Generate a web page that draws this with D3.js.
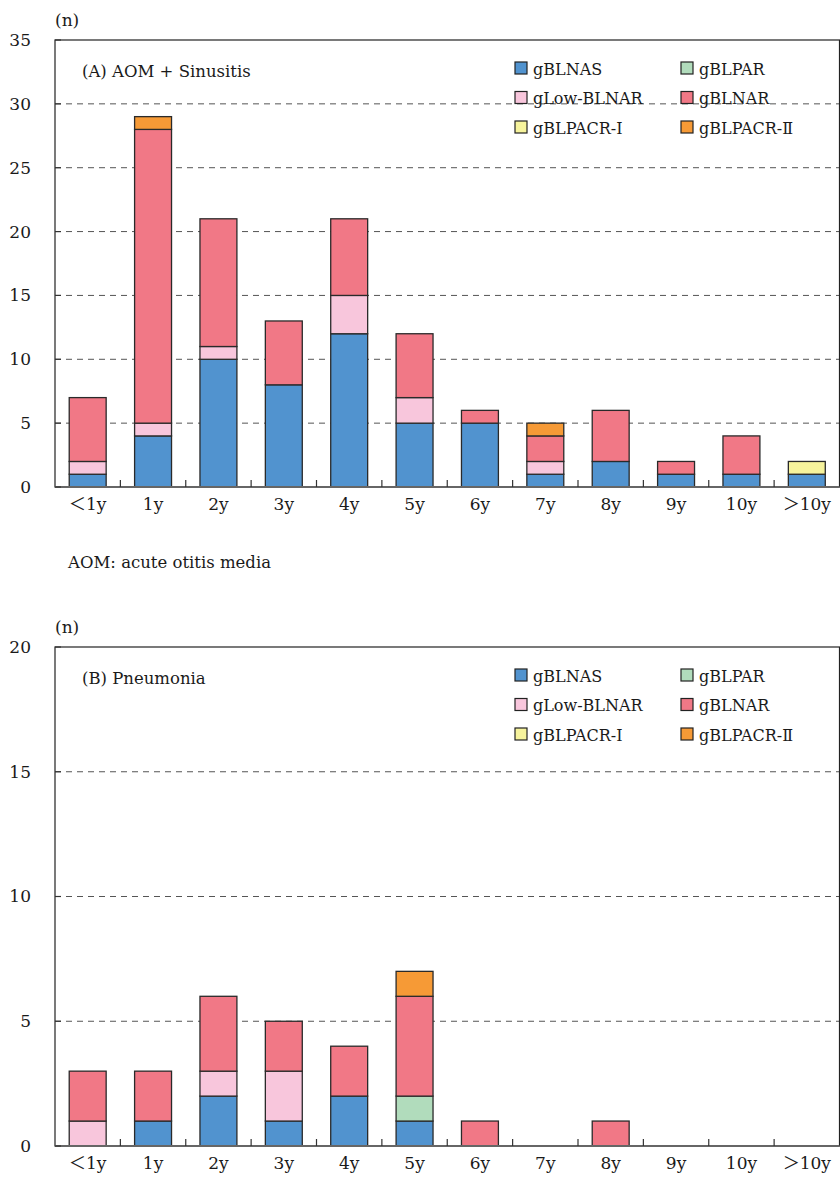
<!DOCTYPE html>
<html>
<head>
<meta charset="utf-8">
<script src="https://cdn.jsdelivr.net/npm/d3@7"></script>
<style>
  body { margin: 0; background: #fff; }
  svg text { font-family: "DejaVu Serif", "Liberation Serif", "Noto Sans CJK JP", serif; fill: #1a1a1a; }
</style>
</head>
<body>
<svg id="chart" width="840" height="1178"></svg>
<script>
// categories and series
var ages = ["＜1y", "1y", "2y", "3y", "4y", "5y", "6y", "7y", "8y", "9y", "10y", "＞10y"];
var groups = ["gBLNAS", "gBLPAR", "gLow-BLNAR", "gBLNAR", "gBLPACR-Ⅰ", "gBLPACR-Ⅱ"];
var colors = ["#5193cf", "#b1dcbc", "#f8c6dc", "#f17886", "#f6f39c", "#f69a36"];

// (A) AOM + Sinusitis, counts per age
var aomBLNAS    = [1, 4, 10, 8, 12, 5, 5, 1, 2, 1, 1, 1];
var aomBLPAR    = [0, 0, 0, 0, 0, 0, 0, 0, 0, 0, 0, 0];
var aomLowBLNAR = [1, 1, 1, 0, 3, 2, 0, 1, 0, 0, 0, 0];
var aomBLNAR    = [5, 23, 10, 5, 6, 5, 1, 2, 4, 1, 3, 0];
var aomBLPACR1  = [0, 0, 0, 0, 0, 0, 0, 0, 0, 0, 0, 1];
var aomBLPACR2  = [0, 1, 0, 0, 0, 0, 0, 1, 0, 0, 0, 0];

// (B) Pneumonia, counts per age
var pnBLNAS    = [0, 1, 2, 1, 2, 1, 0, 0, 0, 0, 0, 0];
var pnBLPAR    = [0, 0, 0, 0, 0, 1, 0, 0, 0, 0, 0, 0];
var pnLowBLNAR = [1, 0, 1, 2, 0, 0, 0, 0, 0, 0, 0, 0];
var pnBLNAR    = [2, 2, 3, 2, 2, 4, 1, 0, 1, 0, 0, 0];
var pnBLPACR1  = [0, 0, 0, 0, 0, 0, 0, 0, 0, 0, 0, 0];
var pnBLPACR2  = [0, 0, 0, 0, 0, 1, 0, 0, 0, 0, 0, 0];

var aomTicks = [0, 5, 10, 15, 20, 25, 30, 35];
var pnTicks = [0, 5, 10, 15, 20];

var svg = d3.select("#chart");

function drawPanel(o) {
    var left = 55, right = 839.5;
    var x = d3.scaleBand().domain(ages).range([left, right]).paddingInner(0.435).paddingOuter(0.2175);
    var y = d3.scaleLinear().domain([0, o.max]).range([o.bottom, o.top]);
    var g = svg.append("g");

    // rows for the stack
    var rows = ages.map(function (a, i) {
        var r = { age: a };
        groups.forEach(function (k, j) { r[k] = o.series[j][i]; });
        return r;
    });
    var stacked = d3.stack().keys(groups)(rows);

    // dashed grid
    g.selectAll(".grid").data(o.ticks.filter(function (t) { return t > 0 && t < o.max; }))
      .enter().append("line")
        .attr("x1", left).attr("x2", right)
        .attr("y1", function (d) { return y(d); }).attr("y2", function (d) { return y(d); })
        .attr("stroke", "#555").attr("stroke-width", 1)
        .attr("stroke-dasharray", "6,5");

    // frame
    g.append("rect")
        .attr("x", left).attr("y", o.top)
        .attr("width", right - left).attr("height", o.bottom - o.top)
        .attr("fill", "none").attr("stroke", "#222").attr("stroke-width", 1.2);

    // bars
    g.selectAll(".layer").data(stacked).enter().append("g")
        .attr("fill", function (d, i) { return colors[i]; })
      .selectAll("rect").data(function (d) { return d.filter(function (s) { return s[1] > s[0]; }); })
      .enter().append("rect")
        .attr("x", function (d) { return x(d.data.age); })
        .attr("width", x.bandwidth())
        .attr("y", function (d) { return y(d[1]); })
        .attr("height", function (d) { return y(d[0]) - y(d[1]); })
        .attr("stroke", "#2a2a2a").attr("stroke-width", 1.3);

    // bottom axis
    var xAxis = g.append("g").attr("transform", "translate(0," + o.bottom + ")")
        .call(d3.axisBottom(x).tickSize(0).tickPadding(11));
    xAxis.select(".domain").remove();
    xAxis.selectAll("text").attr("font-size", 17).attr("fill", "#1a1a1a")
        .style("font-family", "'DejaVu Serif', 'Noto Sans CJK JP', serif");
    g.append("line").attr("x1", left).attr("x2", right)
        .attr("y1", o.bottom).attr("y2", o.bottom)
        .attr("stroke", "#666").attr("stroke-width", 2.2);

    // tick marks between bars
    var step = x.step();
    g.selectAll(".xt").data(ages.slice(1)).enter().append("line")
        .attr("x1", function (d) { return x(d) - (step - x.bandwidth()) / 2; })
        .attr("x2", function (d) { return x(d) - (step - x.bandwidth()) / 2; })
        .attr("y1", o.bottom).attr("y2", o.bottom - 7)
        .attr("stroke", "#333").attr("stroke-width", 1.2);

    // y axis labels
    g.selectAll(".yl").data(o.ticks).enter().append("text")
        .attr("x", 31).attr("y", function (d) { return y(d); })
        .attr("dy", "0.35em").attr("text-anchor", "end")
        .attr("font-size", 17).text(function (d) { return d; });
    g.selectAll(".yt").data(o.ticks).enter().append("line")
        .attr("x1", left).attr("x2", left + 6)
        .attr("y1", function (d) { return y(d); }).attr("y2", function (d) { return y(d); })
        .attr("stroke", "#333").attr("stroke-width", 1.2);

    g.append("text").attr("x", 55).attr("y", o.top - 14).attr("font-size", 17).text("(n)");
    g.append("text").attr("x", 82).attr("y", o.top + 37).attr("font-size", 16.5).text(o.title);

    // legend
    var lg = g.append("g").selectAll("g").data(groups).enter().append("g")
        .attr("transform", function (d, i) {
            return "translate(" + (515 + (i % 2) * 166) + "," + (o.top + 29 + Math.floor(i / 2) * 29.5) + ")";
        });
    lg.append("rect").attr("x", 0).attr("y", -7).attr("width", 12).attr("height", 12)
        .attr("fill", function (d, i) { return colors[i]; })
        .attr("stroke", "#222").attr("stroke-width", 1.2);
    lg.append("text").attr("x", 18).attr("y", 0).attr("dy", "0.35em")
        .attr("font-size", 16).text(function (d) { return d; });
}

drawPanel({
    top: 40, bottom: 487, max: 35, ticks: aomTicks, title: "(A) AOM + Sinusitis",
    series: [aomBLNAS, aomBLPAR, aomLowBLNAR, aomBLNAR, aomBLPACR1, aomBLPACR2]
});

svg.append("text").attr("x", 68).attr("y", 568).attr("font-size", 16.5).text("AOM: acute otitis media");

drawPanel({
    top: 647, bottom: 1146, max: 20, ticks: pnTicks, title: "(B) Pneumonia",
    series: [pnBLNAS, pnBLPAR, pnLowBLNAR, pnBLNAR, pnBLPACR1, pnBLPACR2]
});
</script>
</body>
</html>
